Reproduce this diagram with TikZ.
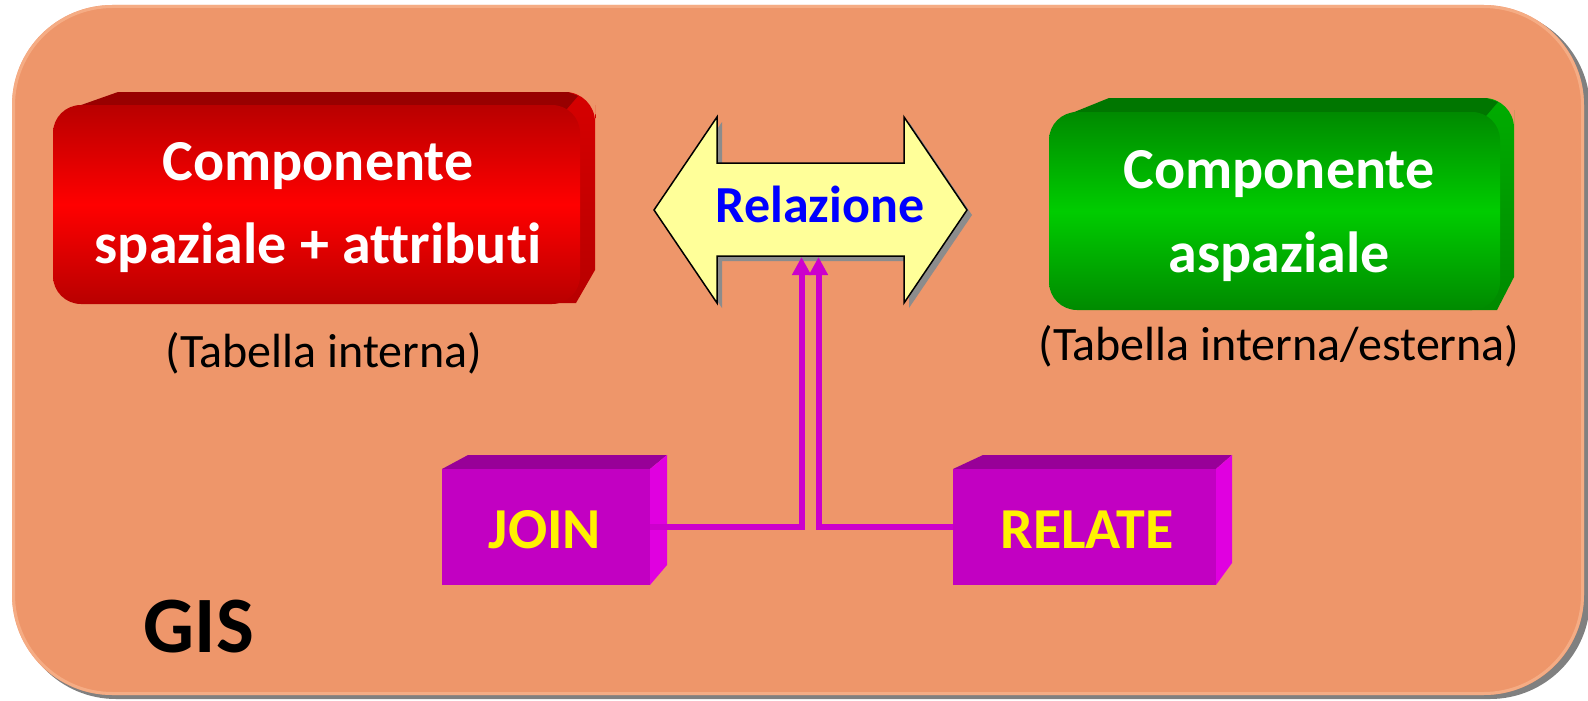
\documentclass[tikz,border=0pt]{standalone}
\usepackage{fontspec}
\setmainfont{Carlito}[Ligatures=NoCommon]
\usetikzlibrary{arrows.meta}

\definecolor{panel}{RGB}{238,150,106}
\definecolor{panelrim}{RGB}{248,182,144}
\definecolor{shadowgray}{RGB}{128,128,128}
\definecolor{arrowshadow}{RGB}{140,140,140}
\definecolor{redtopface}{RGB}{152,0,0}
\definecolor{redside}{RGB}{214,0,0}
\definecolor{reddark}{RGB}{184,0,0}
\definecolor{greentopface}{RGB}{0,118,0}
\definecolor{greenside}{RGB}{0,172,0}
\definecolor{greendark}{RGB}{0,138,0}
\definecolor{greenlight}{RGB}{0,204,0}
\definecolor{purpfront}{RGB}{194,0,194}
\definecolor{purptop}{RGB}{152,0,152}
\definecolor{purpside}{RGB}{224,0,224}
\definecolor{purpline}{RGB}{204,0,204}
\definecolor{arrowfill}{RGB}{255,255,153}

\tikzset{
  facebox/.style={inner sep=0pt, rounded corners=28pt},
  cubefront/.style={inner sep=0pt, fill=purpfront, minimum width=#1, minimum height=116pt},
  boxlabel/.style={anchor=base, inner sep=0pt, text=white,
    font=\fontsize{58}{70}\selectfont\bfseries},
  cubelabel/.style={anchor=base, inner sep=0pt, text=yellow,
    font=\fontsize{58}{70}\selectfont\bfseries},
  note/.style={anchor=base, inner sep=0pt, text=black,
    font=\fontsize{48}{58}\selectfont},
  link/.style={draw=purpline, line width=6pt,
    -{Triangle[length=18pt,width=18pt]}},
}

\begin{document}
\begin{tikzpicture}[x=1pt, y=-1pt]
\useasboundingbox (0,0) rectangle (1588,701);

% background panel with drop shadow
\fill[shadowgray, rounded corners=100pt] (16,9) rectangle (1590,699);
\fill[panel, rounded corners=100pt] (12,5) rectangle (1584,695);
\draw[panelrim, line width=3pt, rounded corners=99pt, opacity=0.7] (13.5,6.5) rectangle (1582.5,693.5);

% ---- red block: right side, top face, front face
\path[top color=redside, bottom color=reddark] (540,92) -- (560,92)
  [rounded corners=30pt] -- (595,92) -- (595,135) [sharp corners] -- (595,270)
  -- (576,303) -- (540,303) -- cycle;
\fill[redtopface] (67,110) -- (118,92) -- (568,92) -- (578,96) -- (566,110) -- cycle;
\node[facebox, top color=reddark, bottom color=reddark, middle color=red,
  minimum width=527pt, minimum height=199pt] (spat) at (316.5,204.5) {};
\node[boxlabel] (spat1) at (318,180) {Componente};
\node[boxlabel] (spat2) at (318,263) {spaziale + attributi};
\node[note] (spatnote) at (324,367) {(Tabella interna)};

% ---- green block
\path[top color=greenside, bottom color=greendark] (1460,98) -- (1480,98)
  [rounded corners=30pt] -- (1514,98) -- (1514,140) [sharp corners] -- (1514,277)
  -- (1497,310) -- (1460,310) -- cycle;
\fill[greentopface] (1062,117) -- (1109,98) -- (1486,98) -- (1498,102) -- (1486,116) -- cycle;
\node[facebox, top color=greendark, bottom color=greendark, middle color=greenlight,
  minimum width=451pt, minimum height=198pt] (asp) at (1274.5,211) {};
\node[boxlabel] (asp1) at (1279,188) {Componente};
\node[boxlabel] (asp2) at (1279,272) {aspaziale};
\node[note] (aspnote) at (1279,360) {(Tabella interna/esterna)};

% ---- double-headed block arrow
\fill[arrowshadow] (659,215) -- (722,122) -- (722,168) -- (909,168) -- (909,122)
  -- (972,215) -- (909,308) -- (909,261) -- (722,261) -- (722,308) -- cycle;
\draw[black, line width=1.5pt, fill=arrowfill, line join=miter]
  (654,210) -- (717,117) -- (717,163) -- (904,163) -- (904,117)
  -- (967,210) -- (904,303) -- (904,256) -- (717,256) -- (717,303) -- cycle;
\node[anchor=base, inner sep=0pt, text=blue, font=\fontsize{52}{62}\selectfont\bfseries]
  (rel) at (820,222) {Relazione};
\coordinate (tipL) at (801.5,257);
\coordinate (tipR) at (818.5,257);

% ---- JOIN cube
\fill[purptop] (442,469) -- (468,455) -- (667,455) -- (650,469) -- cycle;
\fill[purpside] (650,469) -- (667,455) -- (667,565) -- (650,585) -- cycle;
\node[cubefront=208pt] (join) at (546,527) {};
\node[cubelabel] (joinlbl) at (545,548) {JOIN};

% ---- RELATE cube
\fill[purptop] (953,469) -- (983,455) -- (1232,455) -- (1216,469) -- cycle;
\fill[purpside] (1216,469) -- (1232,455) -- (1232,563) -- (1216,585) -- cycle;
\node[cubefront=263pt] (relate) at (1084.5,527) {};
\node[cubelabel] (relatelbl) at (1087,548) {RELATE};

% ---- connectors into the relation arrow
\draw[link] (join.east) -| (tipL);
\draw[link] (relate.west) -| (tipR);

% ---- panel title
\node[anchor=base, inner sep=0pt, font=\fontsize{80}{96}\selectfont\bfseries]
  (gis) at (199,652) {GIS};
\end{tikzpicture}
\end{document}
